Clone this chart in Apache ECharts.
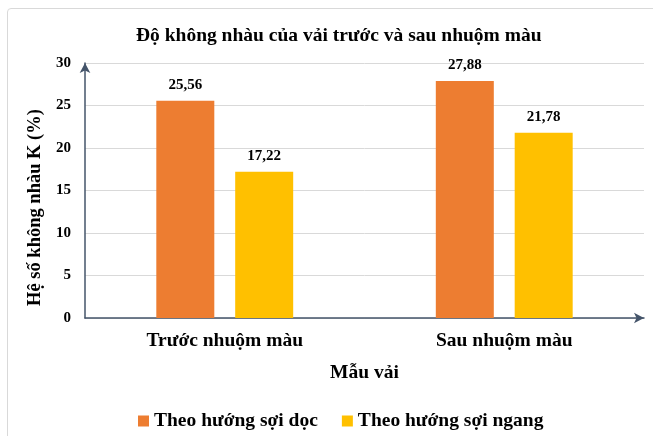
<!DOCTYPE html>
<html>
<head>
<meta charset="utf-8">
<script src="https://cdn.jsdelivr.net/npm/echarts@6/dist/echarts.min.js"></script>
<style>
  html, body { margin: 0; padding: 0; background: #fff; }
  #wrap { position: relative; width: 653px; height: 436px; overflow: hidden; }
  #chart { position: absolute; left: 0; top: 0; width: 653px; height: 436px; }
  .frame { position: absolute; left: 7px; top: 8px; width: 660px; height: 440px;
           border: 1px solid #d9d9d9; border-radius: 4px; pointer-events: none; }
</style>
</head>
<body>
<div id="wrap">
  <div id="chart"></div>
  <div class="frame"></div>
</div>
<script>
const categories = ['Trước nhuộm màu', 'Sau nhuộm màu']
const docValues = [25.56, 27.88]
const ngangValues = [17.22, 21.78]
const seriesNames = ['Theo hướng sợi dọc', 'Theo hướng sợi ngang']

const font = '"Liberation Serif", "Times New Roman", serif'
const axisColor = '#44546a'

const chart = echarts.init(document.getElementById('chart'))

const labelOpt = {
    show: true,
    position: 'top',
    distance: 8,
    fontFamily: font,
    fontWeight: 'bold',
    fontSize: 15,
    color: '#000',
    formatter: p => p.value.toFixed(2).replace('.', ',')
}

chart.setOption({
    animation: false,
    title: {
        text: 'Độ không nhàu của vải trước và sau nhuộm màu',
        left: 131,
        top: 21,
        textStyle: { fontFamily: font, fontWeight: 'bold', fontSize: 19.5, color: '#000' }
    },
    legend: {
        data: seriesNames,
        top: 406,
        left: 133,
        itemWidth: 11,
        itemHeight: 11,
        itemGap: 24,
        icon: 'rect',
        textStyle: { fontFamily: font, fontWeight: 'bold', fontSize: 19.5, color: '#000' }
    },
    grid: {
        left: 85,
        right: 9,
        top: 63,
        bottom: 118
    },
    xAxis: {
        type: 'category',
        data: categories,
        name: 'Mẫu vải',
        nameLocation: 'middle',
        nameGap: 45,
        nameTextStyle: { fontFamily: font, fontWeight: 'bold', fontSize: 19.5, color: '#000' },
        axisLine: {
            lineStyle: { color: axisColor, width: 1.5 },
            symbol: ['none', 'arrow'],
            symbolSize: [8, 10]
        },
        axisTick: { show: false },
        axisLabel: { fontFamily: font, fontWeight: 'bold', fontSize: 19.5, color: '#000', margin: 13 }
    },
    yAxis: {
        type: 'value',
        min: 0,
        max: 30,
        interval: 5,
        name: 'Hệ số không nhàu K (%)',
        nameLocation: 'middle',
        nameRotate: 90,
        nameGap: 40,
        nameTextStyle: {
            fontFamily: font, fontWeight: 'bold', fontSize: 18.5, color: '#000',
            padding: [0, 34, 0, 0]
        },
        axisLine: {
            show: true,
            lineStyle: { color: axisColor, width: 1.5 },
            symbol: ['none', 'arrow'],
            symbolSize: [8, 10]
        },
        axisTick: { show: false },
        axisLabel: { fontFamily: font, fontWeight: 'bold', fontSize: 15, color: '#000', margin: 14 },
        splitLine: { lineStyle: { color: '#d9d9d9' } }
    },
    series: [
        {
            name: seriesNames[0],
            type: 'bar',
            data: docValues,
            barWidth: 58,
            barGap: '36%',
            itemStyle: { color: '#ed7d31' },
            label: labelOpt
        },
        {
            name: seriesNames[1],
            type: 'bar',
            data: ngangValues,
            barWidth: 58,
            barGap: '36%',
            itemStyle: { color: '#ffc000' },
            label: labelOpt
        }
    ]
})
</script>
</body>
</html>
